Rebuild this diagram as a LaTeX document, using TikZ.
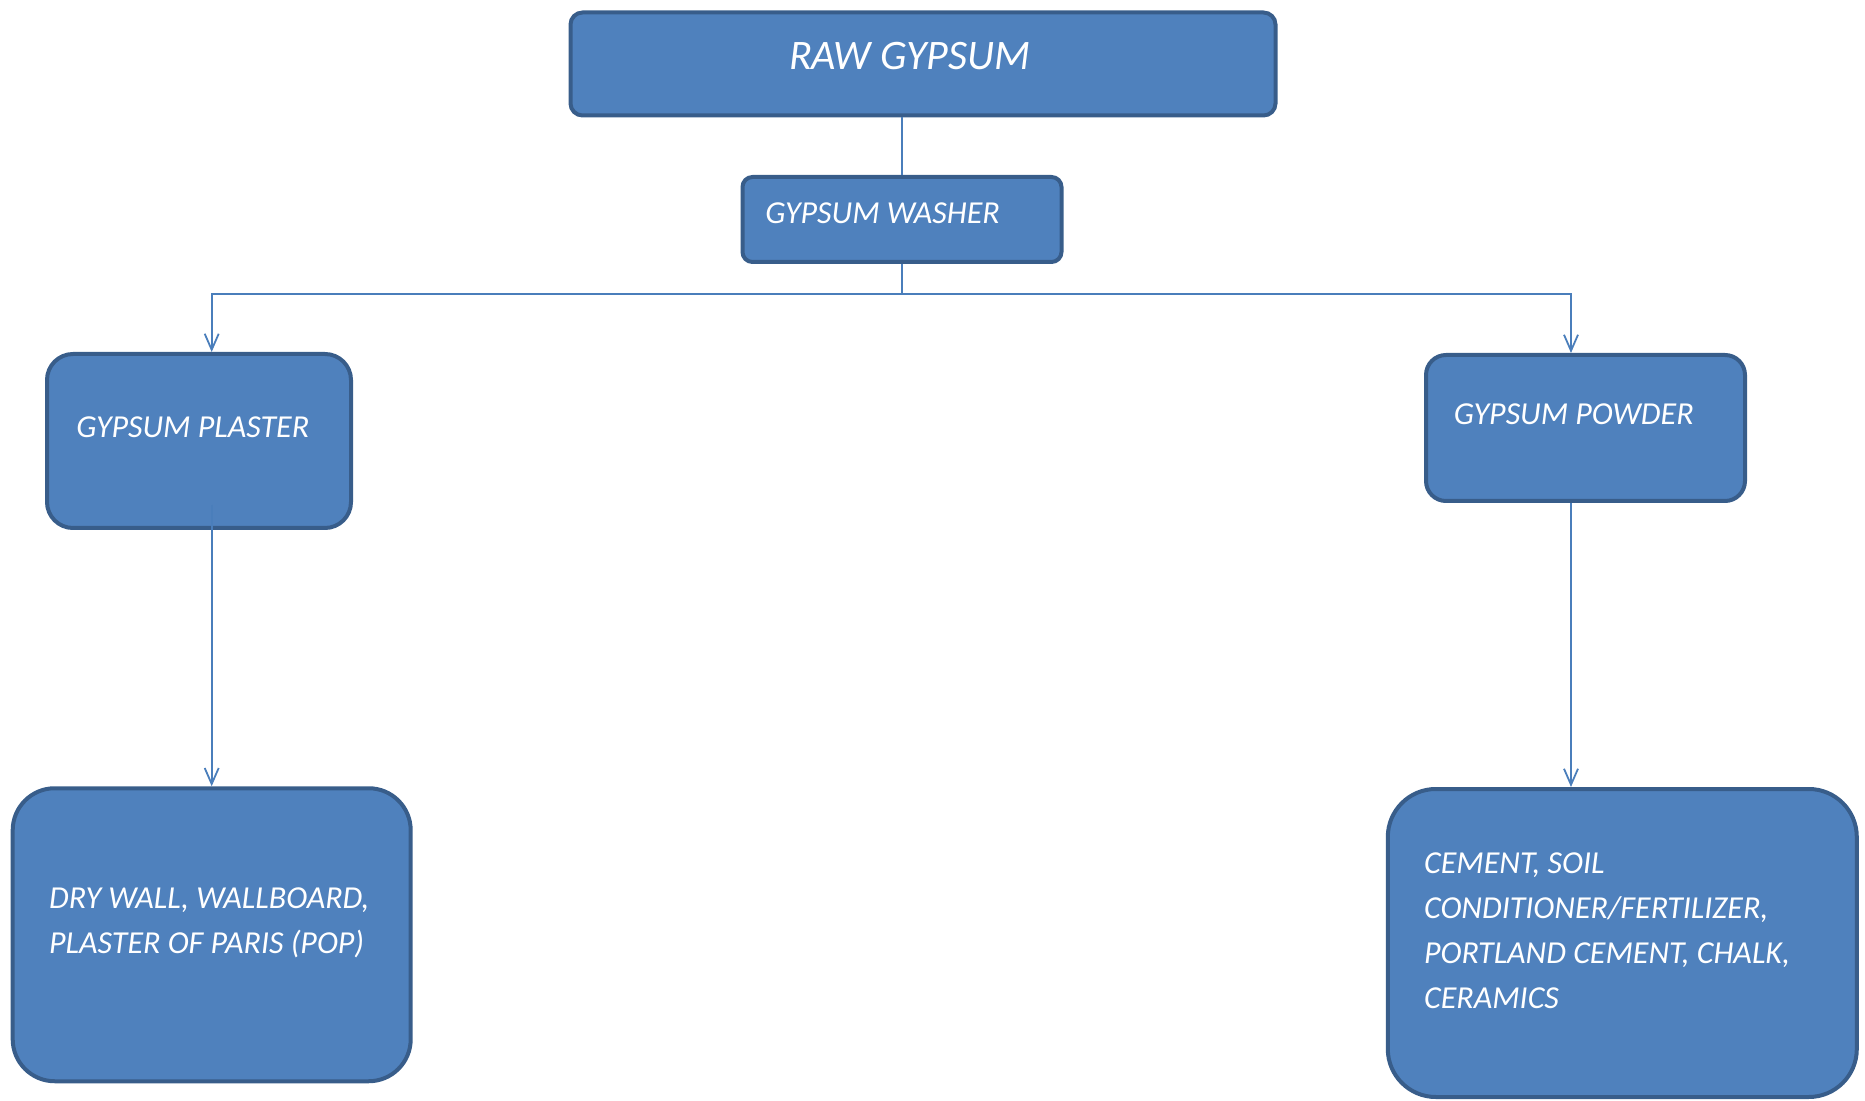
\documentclass[tikz,border=0pt]{standalone}
\usepackage{fontspec}
\setmainfont{Carlito}
\usetikzlibrary{arrows.meta}

\definecolor{boxfill}{HTML}{4F81BD}
\definecolor{boxline}{HTML}{385D8A}
\definecolor{linkcol}{HTML}{4A7EBB}

\begin{document}
\begin{tikzpicture}[x=0.5pt, y=-0.5pt,
    box/.style={draw=boxline, fill=boxfill, line width=2pt, inner sep=0pt},
    lbl/.style={text=white, font=\itshape\fontsize{16}{22.5}\selectfont,
      inner sep=0pt, anchor=base west, align=left},
    link/.style={draw=linkcol, line width=0.9pt},
    arr/.style={link, -{Straight Barb[length=8pt, width=7pt]}}]
    % page size, in pixels of the reference
    \useasboundingbox (0,0) rectangle (1865,1101);

    % boxes
    \node[box, minimum width=352.5pt, minimum height=51.5pt, rounded corners=6pt] (raw) at (923,64) {};
    \node[box, minimum width=159.5pt, minimum height=42.5pt, rounded corners=5pt] (washer) at (902,219.5) {};
    \node[box, minimum width=152pt, minimum height=87pt, rounded corners=13pt] (plaster) at (199,441) {};
    \node[box, minimum width=159.5pt, minimum height=73pt, rounded corners=10pt] (powder) at (1585.5,428) {};
    \node[box, minimum width=199pt, minimum height=146.5pt, rounded corners=21pt] (dry) at (211.7,934.75) {};
    \node[box, minimum width=234.5pt, minimum height=154pt, rounded corners=24pt] (cer) at (1622.3,943) {};

    % texts (base = last line)
    \node[lbl, font=\itshape\fontsize{21}{25}\selectfont] (rawtxt) at (788.6,70) {RAW GYPSUM};
    \node[lbl] (washertxt) at (765,223.6) {GYPSUM WASHER};
    \node[lbl] (plastertxt) at (76,437.7) {GYPSUM PLASTER};
    \node[lbl] (powdertxt) at (1453.5,424.6) {GYPSUM POWDER};
    \node[lbl] (drytxt) at (48.8,953) {DRY WALL, WALLBOARD,\\PLASTER OF PARIS (POP)};
    \node[lbl] (certxt) at (1423.7,1008) {CEMENT, SOIL\\CONDITIONER/FERTILIZER,\\PORTLAND CEMENT, CHALK,\\CERAMICS};

    % connectors
    \coordinate (lbr) at (211.7,294);
    \coordinate (rbr) at (1571,294);
    \coordinate (plout) at (211.7,505);
    \draw[link] (raw.south -| washer.north) -- (washer.north);
    \draw[arr] (washer.south) |- (lbr) -- (lbr |- plaster.north);
    \draw[arr] (washer.south) |- (rbr) -- (rbr |- powder.north);
    \draw[arr] (plout) -- (plout |- dry.north);
    \draw[arr] (rbr |- powder.south) -- (rbr |- cer.north);
\end{tikzpicture}
\end{document}
